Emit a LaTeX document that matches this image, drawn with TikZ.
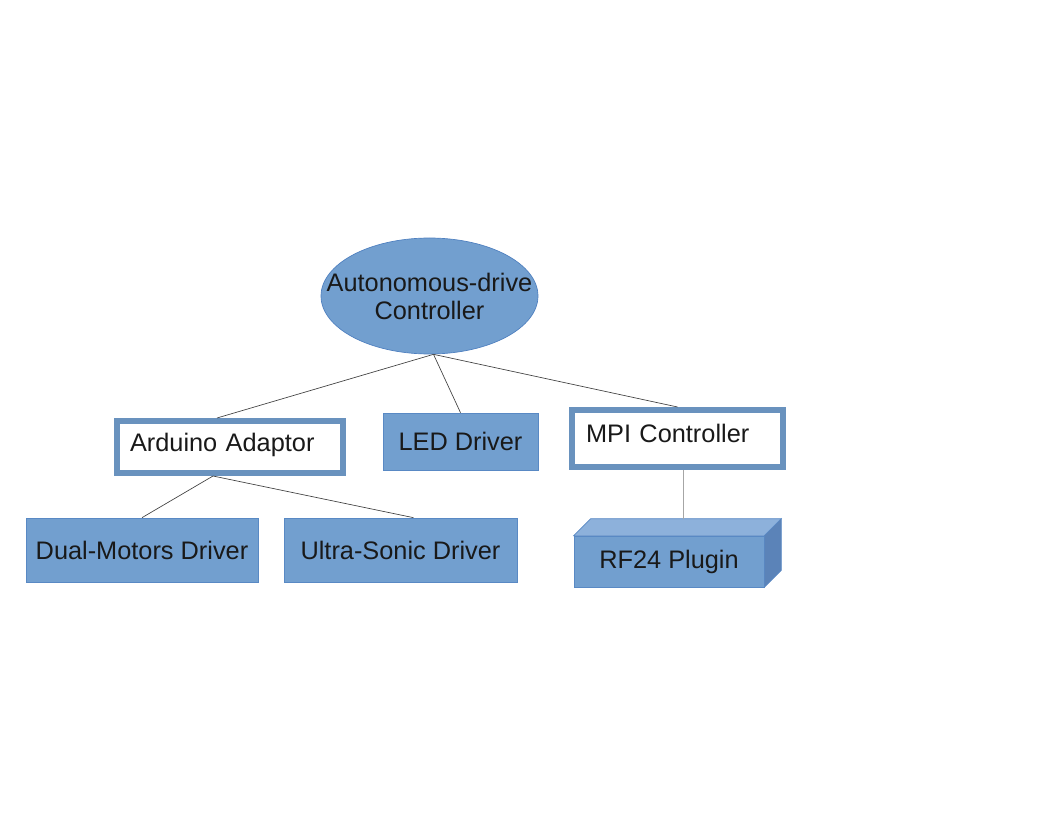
\documentclass[tikz,border=0pt]{standalone}
\usepackage{fontspec}
\setmainfont{Liberation Sans}
\usetikzlibrary{shapes.geometric,calc}

\definecolor{boxblue}{HTML}{729FCF}
\definecolor{edgeblue}{HTML}{4E7FBF}
\definecolor{topblue}{HTML}{8DB1DB}
\definecolor{sideblue}{HTML}{5B83B8}
\newcommand{\px}{0.75pt}
\newcommand{\midline}[1]{\makebox[0pt]{#1}}

\tikzset{
  label font/.style={font=\fontsize{19}{21}\selectfont, text=black!90},
  filled block/.style={rectangle, draw=edgeblue!70!boxblue, line width=0.5pt,
    fill=boxblue, inner sep=0pt, label font},
  framed block/.style={rectangle, draw=boxblue!92!black, line width=6*\px,
    fill=white, inner ysep=0pt, align=left, label font},
  link/.style={draw=black!75, line width=0.5pt},
}

\begin{document}
\begin{tikzpicture}[x=\px, y=-\px]
  \useasboundingbox (0,0) rectangle (1056,816);

  % top of the tree
  \node[ellipse, draw=edgeblue, line width=0.5pt, fill=boxblue, inner sep=0pt,
    minimum width=217*\px, minimum height=116*\px, align=center, label font]
    (ctrl) at (429.5,296) {\midline{Autonomous-drive}\\\midline{Controller}};

  % second row
  \node[framed block, minimum width=226*\px, minimum height=52*\px,
    inner xsep=13*\px, text width=200*\px, text depth=7.5pt]
    (ard) at (230,447) {Arduino Adaptor};
  \node[filled block, minimum width=155*\px, minimum height=57*\px]
    (led) at (460.5,441.5) {LED Driver};
  \node[framed block, minimum width=211*\px, minimum height=57*\px,
    inner xsep=14*\px, text width=183*\px, text depth=7.5pt]
    (mpi) at (677.5,438.5) {MPI Controller};

  % third row
  \node[filled block, minimum width=232*\px, minimum height=64*\px]
    (dual) at (142,550) {Dual-Motors Driver};
  \node[filled block, minimum width=233*\px, minimum height=64*\px]
    (ultra) at (400.5,550) {Ultra-Sonic Driver};

  % rf24 box, front face is the node
  \node[filled block, minimum width=190*\px, minimum height=51*\px]
    (rf) at (669,561.5) {RF24 Plugin};
  \draw[fill=topblue, draw=edgeblue!70!boxblue, line width=0.5pt]
    (rf.north west) -- ++(17,-17) -- ($(rf.north east)+(17,-17)$) -- (rf.north east) -- cycle;
  \draw[fill=sideblue, draw=edgeblue!70!boxblue, line width=0.5pt]
    (rf.north east) -- ++(17,-17) -- ($(rf.south east)+(17,-17)$) -- (rf.south east) -- cycle;
  \coordinate (rftop) at ($(rf.north)+(14,-17)$);

  % connectors
  \coordinate (hub) at ($(ctrl.south)+(4,0)$);
  \draw[link] (hub) -- ([xshift=-13*\px]ard.north);
  \draw[link] (hub) -- (led.north);
  \draw[link] (hub) -- (mpi.north);
  \coordinate (ardhub) at ($(ard.south)+(-17,0)$);
  \draw[link] (ardhub) -- (dual.north);
  \draw[link] (ardhub) -- ([xshift=13*\px]ultra.north);
  \draw[link, draw=black!35] ([xshift=5.5*\px]mpi.south) -- (rftop);
\end{tikzpicture}
\end{document}
